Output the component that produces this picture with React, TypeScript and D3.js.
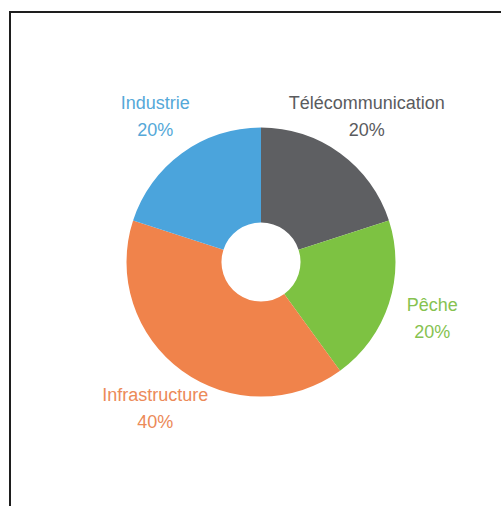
import * as d3 from "d3";

const CATEGORIES = ["Télécommunication", "Pêche", "Infrastructure", "Industrie"];
const VALUES = [20, 20, 40, 20];
const SLICE_COLORS = ["#5e5f62", "#7dc242", "#f0834b", "#4ba4dc"];
const LABEL_COLORS = ["#5a5b5e", "#86c250", "#ec8a58", "#55a8d8"];

const WIDTH = 501;
const HEIGHT = 506;
const CX = 261;
const CY = 262;
const OUTER = 134.5;
const INNER = 39.5;
const LABEL_R = 180;

type Slice = { name: string; value: number };

const App = () => {
  const rows: Slice[] = CATEGORIES.map((name, i) => ({ name, value: VALUES[i] }));
  const total = d3.sum(VALUES);

  const pie = d3
    .pie<Slice>()
    .sort(null)
    .value((d) => d.value);
  const arcs = pie(rows);

  const arc = d3.arc<d3.PieArcDatum<Slice>>().innerRadius(INNER).outerRadius(OUTER);
  const labelArc = d3
    .arc<d3.PieArcDatum<Slice>>()
    .innerRadius(LABEL_R)
    .outerRadius(LABEL_R);

  return (
    <svg
      width={WIDTH}
      height={HEIGHT}
      style={{ position: "absolute", left: 0, top: 0, background: "#fff" }}
    >
      <rect x={0} y={0} width={WIDTH} height={HEIGHT} fill="#fff" />
      <rect
        x={10}
        y={12}
        width={WIDTH + 20}
        height={HEIGHT + 20}
        fill="none"
        stroke="#1e1e1e"
        strokeWidth={2}
      />
      <g transform={`translate(${CX},${CY})`}>
        {arcs.map((a, i) => (
          <path key={a.data.name} d={arc(a) ?? ""} fill={SLICE_COLORS[i]} />
        ))}
        {arcs.map((a, i) => {
          const [x, y] = labelArc.centroid(a);
          const pct = d3.format(".0%")(a.data.value / total);
          return (
            <text
              key={a.data.name + "-label"}
              x={x}
              y={y}
              textAnchor="middle"
              fill={LABEL_COLORS[i]}
              fontFamily="'Liberation Sans', Arial, sans-serif"
              fontSize={18}
            >
              <tspan x={x} dy={-7}>
                {a.data.name}
              </tspan>
              <tspan x={x} dy={27}>
                {pct}
              </tspan>
            </text>
          );
        })}
      </g>
    </svg>
  );
};

export default App;
